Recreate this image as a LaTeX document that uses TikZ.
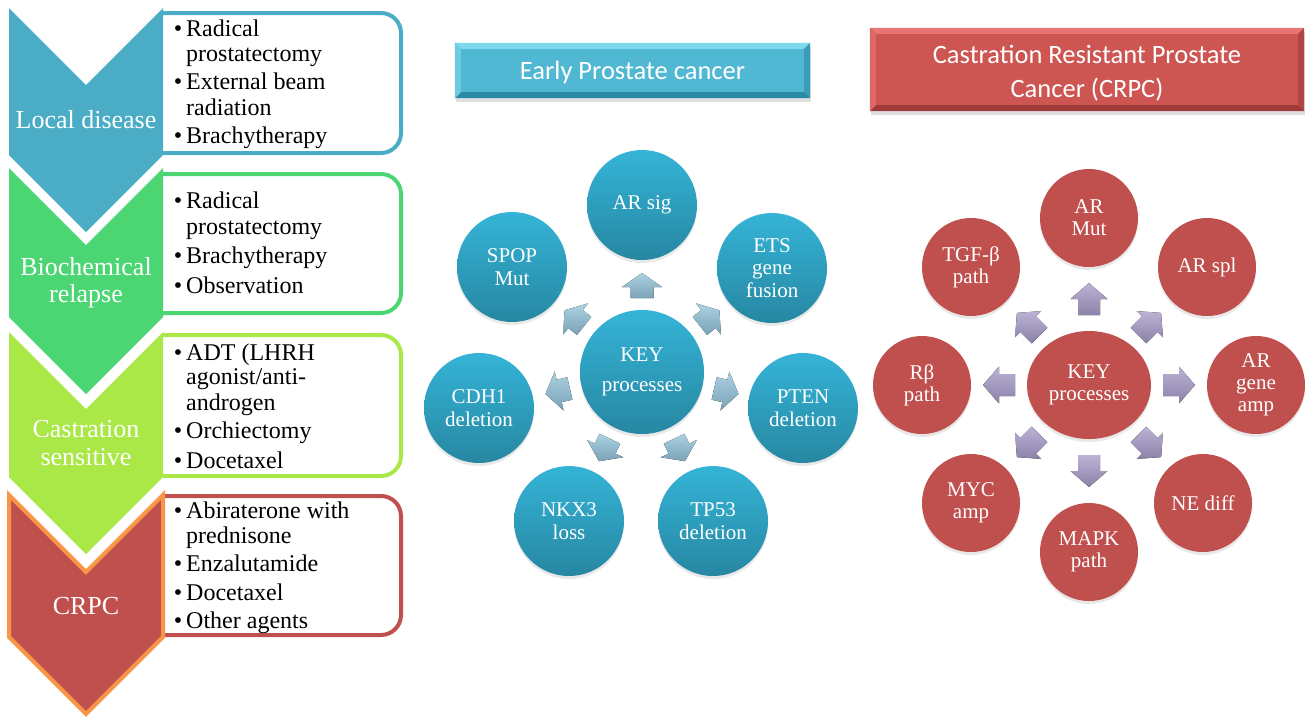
\documentclass[tikz,border=0pt]{standalone}
\usepackage{fontspec}
\setmainfont{Liberation Serif}
\newfontfamily\calibri{Carlito}
\usetikzlibrary{shapes.geometric,shadows}

\begin{document}
\begin{tikzpicture}[x=1pt,y=-1pt,
  stagetxt/.style={text=white,anchor=base,inner sep=0pt,font=\fontsize{26}{27}\selectfont},
  itemtxt/.style={anchor=base west,inner sep=0pt,font=\fontsize{24}{25}\selectfont},
  itembul/.style={anchor=base,inner sep=0pt,font=\fontsize{24}{25}\selectfont},
  listbox/.style={line width=4pt,rounded corners=20pt},
  banner/.style={inner sep=0pt,drop shadow={opacity=0.25,shadow xshift=1pt,shadow yshift=-4pt}},
  bantxt/.style={inner sep=0pt,text=white,align=center,font=\calibri\fontsize{26.5}{34}\selectfont},
  bcirc/.style={circle,inner sep=0pt,minimum size=110pt,top color=cTop,bottom color=cBot,text=white,
    align=center,font=\fontsize{21}{22.5}\selectfont,drop shadow={opacity=0.18,shadow xshift=0pt,shadow yshift=-3pt}},
  rcirc/.style={circle,inner sep=0pt,minimum size=98pt,fill=kRed,text=white,
    align=center,font=\fontsize{21}{22}\selectfont,drop shadow={opacity=0.18,shadow xshift=0pt,shadow yshift=-3pt}},
  barrow/.style={top color=aTop,bottom color=aBot},
  parrow/.style={top color=pTop,bottom color=pBot}]
  \definecolor{kBlue}{RGB}{75,172,198}
  \definecolor{kGreen}{RGB}{75,214,115}
  \definecolor{kLime}{RGB}{170,232,72}
  \definecolor{kRed}{RGB}{192,80,77}
  \definecolor{kOrange}{RGB}{247,150,70}
  \definecolor{cTop}{RGB}{53,180,215}
  \definecolor{cBot}{RGB}{38,135,162}
  \definecolor{aTop}{RGB}{172,210,226}
  \definecolor{aBot}{RGB}{122,162,182}
  \definecolor{pTop}{RGB}{188,178,214}
  \definecolor{pBot}{RGB}{140,130,168}
  \definecolor{bbMid}{RGB}{80,184,210}
  \definecolor{bbHi}{RGB}{128,216,236}
  \definecolor{bbLo}{RGB}{44,138,164}
  \definecolor{rbMid}{RGB}{205,85,82}
  \definecolor{rbHi}{RGB}{232,118,115}
  \definecolor{rbLo}{RGB}{160,58,56}

  \useasboundingbox (0,0) rectangle (1306,716);

  % treatment boxes
  \draw[listbox,kBlue]  (163,13) -- (401,13) -- (401,153) -- (163,153);
  \draw[listbox,kGreen] (163,174) -- (401,174) -- (401,313) -- (163,313);
  \draw[listbox,kLime]  (163,335) -- (401,335) -- (401,476) -- (163,476);
  \draw[listbox,kRed]   (163,496) -- (401,496) -- (401,635) -- (163,635);

  % stage chevrons
  \fill[kBlue]  (9,8) -- (86,85) -- (163,8) -- (163,155) -- (86,232) -- (9,155) -- cycle;
  \fill[kGreen] (9,168) -- (86,245) -- (163,168) -- (163,317) -- (86,394) -- (9,317) -- cycle;
  \fill[kLime]  (9,332) -- (86,409) -- (163,332) -- (163,477) -- (86,554) -- (9,477) -- cycle;
  \draw[kOrange,line width=4pt,fill=kRed] (9,495) -- (86,572) -- (163,495) -- (163,637) -- (86,714) -- (9,637) -- cycle;

  \node[stagetxt] (s1) at (86,128) {Local disease};
  \node[stagetxt] (s2a) at (86,275) {Biochemical};
  \node[stagetxt] (s2b) at (86,302) {relapse};
  \node[stagetxt] (s3a) at (86,437) {Castration};
  \node[stagetxt] (s3b) at (86,465) {sensitive};
  \node[stagetxt] (s4) at (86,614) {CRPC};

  \foreach \y/\t in {36/Radical,61/prostatectomy,89/External beam,115/radiation,143/Brachytherapy,
    208/Radical,234/prostatectomy,263/Brachytherapy,293/Observation,
    360/ADT (LHRH,384/{agonist/anti-},410/androgen,438/Orchiectomy,468/Docetaxel,
    518/Abiraterone with,543/prednisone,571/Enzalutamide,600/Docetaxel,628/Other agents}
    \node[itemtxt] (t\y) at (186,\y) {\t};
  \foreach \y in {36,89,143,208,263,293,360,438,468,518,571,600,628}
    \node[itembul] (d\y) at (178,\y) {\textbullet};

  % banners
  \node[banner,fill=bbMid,minimum width=355pt,minimum height=55pt] (early) at (632.5,70.5) {};
  \fill[bbHi] (early.north west) -- (early.north east) -- ([shift={(-6,6)}]early.north east) -- ([shift={(6,6)}]early.north west) -- cycle;
  \fill[bbLo] (early.south west) -- (early.south east) -- ([shift={(-6,-6)}]early.south east) -- ([shift={(6,-6)}]early.south west) -- cycle;
  \fill[bbHi!60!bbMid] (early.north west) -- ([shift={(6,6)}]early.north west) -- ([shift={(6,-6)}]early.south west) -- (early.south west) -- cycle;
  \fill[bbLo!60!bbMid] (early.north east) -- ([shift={(-6,6)}]early.north east) -- ([shift={(-6,-6)}]early.south east) -- (early.south east) -- cycle;
  \node[bantxt] (earlytxt) at (632.5,72) {Early Prostate cancer};

  \node[banner,fill=rbMid,minimum width=434pt,minimum height=83pt] (crpc) at (1087,69.5) {};
  \fill[rbHi] (crpc.north west) -- (crpc.north east) -- ([shift={(-6,6)}]crpc.north east) -- ([shift={(6,6)}]crpc.north west) -- cycle;
  \fill[rbLo] (crpc.south west) -- (crpc.south east) -- ([shift={(-6,-6)}]crpc.south east) -- ([shift={(6,-6)}]crpc.south west) -- cycle;
  \fill[rbHi!60!rbMid] (crpc.north west) -- ([shift={(6,6)}]crpc.north west) -- ([shift={(6,-6)}]crpc.south west) -- (crpc.south west) -- cycle;
  \fill[rbLo!60!rbMid] (crpc.north east) -- ([shift={(-6,6)}]crpc.north east) -- ([shift={(-6,-6)}]crpc.south east) -- (crpc.south east) -- cycle;
  \node[bantxt] (crpctxt) at (1087,73.5) {Castration Resistant Prostate\\Cancer (CRPC)};

  % early prostate cancer processes
  \node[bcirc,minimum size=124pt] (bkey) at (642,372) {KEY\\[7pt]processes};
  \node[bcirc] (bsig)  at (642,205) {AR sig};
  \node[bcirc] (bspop) at (512,267) {SPOP\\Mut};
  \node[bcirc] (bets)  at (772,268) {ETS\\gene\\fusion};
  \node[bcirc] (bcdh)  at (479,408) {CDH1\\deletion};
  \node[bcirc] (bpten) at (803,408) {PTEN\\deletion};
  \node[bcirc] (bnkx)  at (569,521) {NKX3\\loss};
  \node[bcirc] (btp)   at (713,521) {TP53\\deletion};

  \foreach \a in {90,141.43,192.86,244.29,295.71,347.14,38.57}
  {
    \begin{scope}[shift={(bkey.center)},rotate=\a]
      \fill[barrow] (74,-11.5) -- (85,-11.5) -- (85,-20) -- (99,0) -- (85,20) -- (85,11.5) -- (74,11.5) -- cycle;
    \end{scope}
  }

  % CRPC processes
  \node[rcirc,ellipse,minimum width=124pt,minimum height=108pt] (rkey) at (1089,385) {KEY\\processes};
  \node[rcirc] (rmut)  at (1089,218) {AR\\Mut};
  \node[rcirc] (rtgf)  at (971,267)  {TGF-β\\path};
  \node[rcirc] (rspl)  at (1207,267) {AR spl};
  \node[rcirc] (rrb)   at (922,385)  {Rβ\\path};
  \node[rcirc] (ramp)  at (1256,385) {AR\\gene\\amp};
  \node[rcirc] (rmyc)  at (971,503)  {MYC\\amp};
  \node[rcirc] (rmapk) at (1089,552) {MAPK\\path};
  \node[rcirc] (rne)   at (1203,503) {NE diff};

  \foreach \a/\d in {90/0,45/0,0/4,-45/0,-90/0,-135/0,180/4,135/0}
  {
    \begin{scope}[shift={(rkey.center)},rotate=\a]
      \fill[parrow] (70+\d,-11) -- (86+\d,-11) -- (86+\d,-18.5) -- (102+\d,0) -- (86+\d,18.5) -- (86+\d,11) -- (70+\d,11) -- cycle;
    \end{scope}
  }
\end{tikzpicture}
\end{document}
